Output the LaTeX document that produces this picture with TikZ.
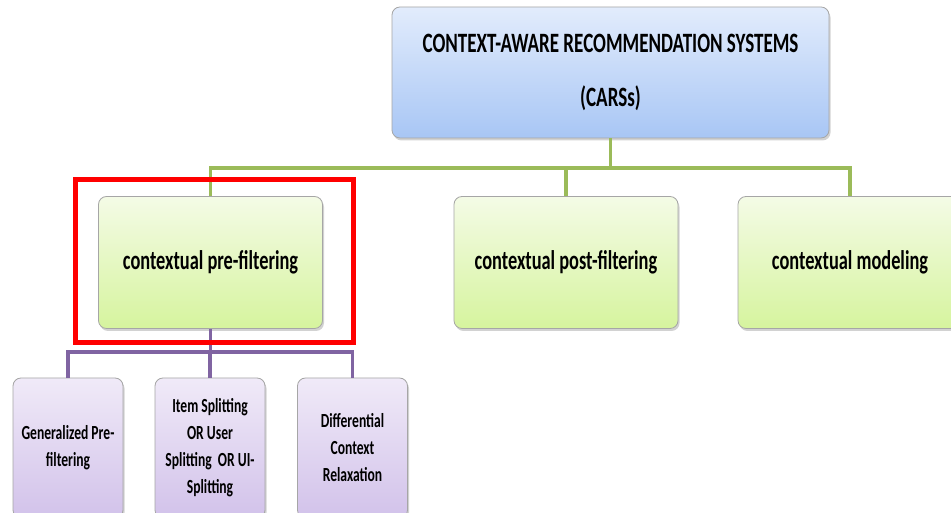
\documentclass[tikz,border=0pt]{standalone}
\usepackage{fontspec}
\newfontfamily\carsfont[FakeStretch=0.68]{Carlito}
\usetikzlibrary{shadows}
\definecolor{carsblue}{RGB}{168,198,245}
\definecolor{carsbluetop}{RGB}{226,236,252}
\definecolor{carsgreen}{RGB}{214,244,158}
\definecolor{carsgreentop}{RGB}{244,251,230}
\definecolor{carspurple}{RGB}{210,194,234}
\definecolor{carspurpletop}{RGB}{240,234,248}
\definecolor{greenline}{RGB}{155,187,89}
\definecolor{purpleline}{RGB}{128,100,162}
\tikzstyle{box}=[rounded corners=8pt,draw=gray!70,line width=0.8pt,align=center,
  drop shadow={opacity=0.35,shadow xshift=1.5pt,shadow yshift=-2.5pt}]
\tikzstyle{topbox}=[box,top color=carsbluetop,bottom color=carsblue,minimum width=437pt,minimum height=131pt,
  font=\carsfont\bfseries\fontsize{28}{30}\selectfont]
\tikzstyle{midbox}=[box,top color=carsgreentop,bottom color=carsgreen,minimum width=224pt,minimum height=132pt,
  font=\carsfont\bfseries\fontsize{27}{30}\selectfont]
\tikzstyle{lowbox}=[box,top color=carspurpletop,bottom color=carspurple,minimum width=110pt,minimum height=140pt,
  font=\carsfont\bfseries\fontsize{20}{27}\selectfont]
\tikzstyle{greenbar}=[draw=greenline,line width=3.5pt]
\tikzstyle{purplebar}=[draw=purpleline,line width=3.5pt]

\begin{document}
\begin{tikzpicture}[x=1pt,y=1pt]
  \useasboundingbox[fill=white] (0,0) rectangle (951,513);
  % top level
  \node[topbox] (cars) at (610.5,440.5) {CONTEXT-AWARE RECOMMENDATION SYSTEMS\\[24pt](CARSs)};
  % the three approaches
  \node[midbox] (pre) at (210.5,250.5) {contextual pre-filtering};
  \node[midbox] (post) at (566,250.5) {contextual post-filtering};
  \node[midbox] (model) at (850,250.5) {contextual modeling};
  % pre-filtering methods
  \node[lowbox] (gen) at (68,65) {Generalized Pre-\\filtering};
  \node[lowbox] (split) at (210,65) {Item Splitting\\OR User\\Splitting~ OR UI-\\Splitting};
  \node[lowbox] (diff) at (352.5,65) {Differential\\Context\\Relaxation};

  \coordinate (gbar) at (0,345);
  \coordinate (pbar) at (0,161);
  \draw[greenbar] (cars.south) -- (cars.south |- gbar);
  \draw[greenbar] (pre.north) -- (pre.north |- gbar) -| (model.north);
  \draw[greenbar] (post.north) -- (post.north |- gbar);
  \draw[purplebar] (pre.south) -- (pre.south |- pbar);
  \draw[purplebar] (gen.north) -- (gen.north |- pbar) -| (diff.north);
  \draw[purplebar] (split.north) -- (split.north |- pbar);

  % highlight
  \node[draw=red,line width=5pt,minimum width=278pt,minimum height=163pt] (mark) at (214,251.5) {};
\end{tikzpicture}
\end{document}
